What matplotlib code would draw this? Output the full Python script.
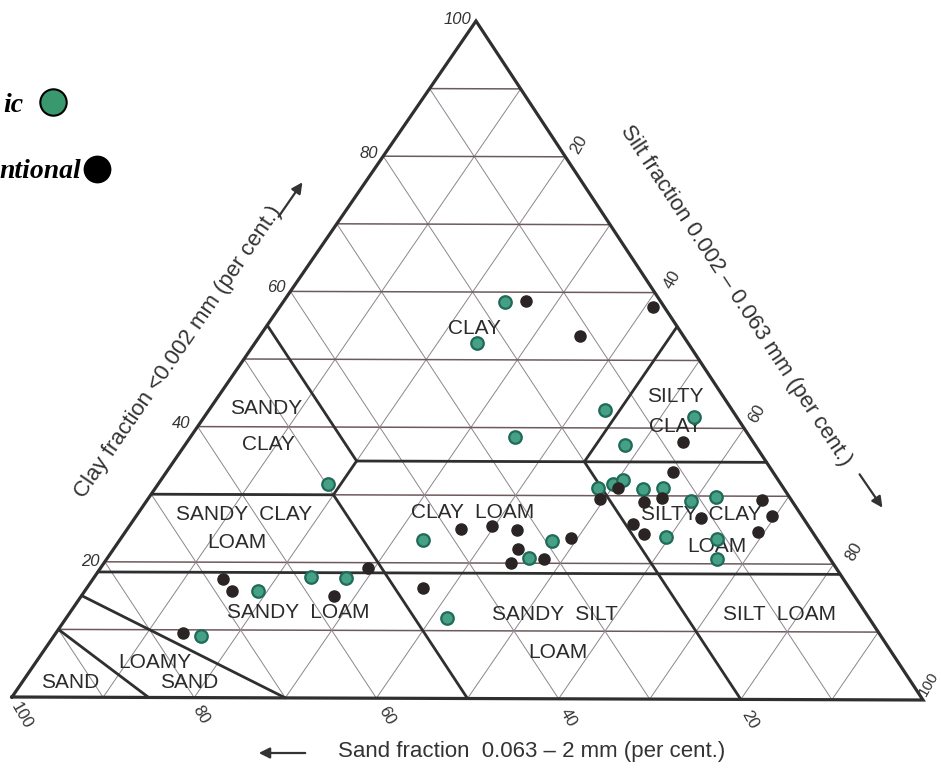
import matplotlib
matplotlib.use("Agg")
import matplotlib.pyplot as plt
from matplotlib.transforms import Affine2D

# ---------------- data (per cent) ----------------
# Organic samples
org_clay = [58.5, 52.5, 42.6, 38.6, 37.5, 41.7, 31.6, 31.1, 31.7, 32.3, 31.0, 31.2, 29.3,
            29.9, 23.9, 23.7, 20.7, 23.4, 23.3, 20.8, 11.9, 15.8, 17.9, 17.7, 9.1]
org_silt = [24.3, 24.3, 43.4, 35.5, 48.2, 53.6, 18.6, 48.5, 49.8, 50.6, 53.5, 55.6, 59.6,
            62.0, 59.6, 65.3, 66.8, 33.2, 47.4, 46.2, 41.7, 19.0, 23.7, 27.6, 16.1]
org_sand = [17.2, 23.2, 14.0, 25.9, 14.3, 4.7, 49.8, 20.4, 18.5, 17.1, 15.5, 13.2, 11.1,
            8.1, 16.5, 11.0, 12.5, 43.4, 29.3, 33.0, 46.4, 65.2, 58.4, 54.7, 74.8]

# Conventional samples
con_clay = [58.7, 53.6, 57.9, 38.0, 33.5, 31.1, 29.5, 29.1, 29.7, 29.4, 27.1, 26.8, 25.8, 24.4,
            24.7, 23.7, 25.0, 25.5, 24.9, 22.1, 20.0, 20.6, 16.3, 17.5, 15.8, 15.1, 19.2, 9.5]
con_silt = [26.5, 35.1, 40.9, 54.3, 55.5, 50.7, 49.5, 54.6, 56.2, 67.4, 69.6, 62.0, 55.0, 57.0,
            69.3, 49.3, 36.5, 39.7, 42.8, 44.3, 44.6, 47.9, 36.8, 14.2, 16.1, 27.7, 29.3, 13.9]
con_sand = [14.8, 11.3, 1.2, 7.7, 11.0, 18.2, 21.0, 16.3, 14.1, 3.2, 3.3, 11.2, 19.2, 18.6,
            6.0, 27.0, 38.5, 34.8, 32.3, 33.6, 35.4, 31.5, 46.9, 68.3, 68.1, 57.2, 51.5, 76.6]

grid_values = [10, 20, 30, 40, 50, 60, 70, 80, 90]
clay_ticks = ["20", "40", "60", "80", "100"]
silt_ticks = ["20", "40", "60", "80", "100"]
sand_ticks = ["100", "80", "60", "40", "20"]

# class boundaries: ((silt, clay) start, (silt, clay) end)
boundaries = [
    ((20, 35), (65, 35)),   # clay 35
    ((0, 55), (20, 35)),    # sand 45
    ((45, 55), (45, 35)),   # silt 45
    ((20, 35), (20, 30)),   # silt 20
    ((0, 30), (20, 30)),    # clay 30
    ((20, 30), (50, 0)),    # sand 50
    ((45, 35), (80, 0)),    # sand 20
    ((0, 18.5), (81.5, 18.5)),  # clay ~18
    ((0, 10), (15, 0)),     # sand limit
    ((0, 15), (30, 0)),     # loamy sand limit
]

region_labels = [
    ("CLAY", 474, 328), ("SANDY", 266, 409), ("CLAY", 268, 445),
    ("SILTY", 675, 396), ("CLAY", 675, 426),
    ("SANDY  CLAY", 244, 514), ("LOAM", 237, 543),
    ("CLAY  LOAM", 473, 513),
    ("SILTY  CLAY", 701, 515), ("LOAM", 717, 546),
    ("SANDY  LOAM", 298, 613), ("SANDY  SILT", 555, 614), ("LOAM", 558, 652),
    ("SILT  LOAM", 780, 615),
    ("LOAMY", 155, 662), ("SAND", 189, 682), ("SAND", 70, 682),
]

legend_labels = ["ic", "ntional"]   # visible parts of "Organic" / "Conventional"

# ---------------- figure ----------------
W, H = 941, 770
fig = plt.figure(figsize=(W / 100, H / 100), dpi=100)
ax = fig.add_axes([0, 0, 1, 1])
ax.set_xlim(0, W)
ax.set_ylim(H, 0)
ax.axis("off")

# ternary (silt %, clay %) -> page transform
tern = Affine2D.from_values(9.11, 0.03, 4.64, -6.76, 12, 697) + ax.transData

line_dark = "#2f2f2f"
grid_h = "#6e5a5c"
grid_d = "#8e8490"

# grid lattice
for v in grid_values:
    ax.plot([0, 100 - v], [v, v], transform=tern, color=grid_h, lw=1.1, zorder=1)
    ax.plot([v, v], [0, 100 - v], transform=tern, color=grid_d, lw=0.7, zorder=1)
    ax.plot([100 - v, 0], [0, 100 - v], transform=tern, color=grid_d, lw=0.7, zorder=1)

# boundaries
for (s0, c0), (s1, c1) in boundaries:
    ax.plot([s0, s1], [c0, c1], transform=tern, color=line_dark, lw=2.0,
            solid_capstyle="round", zorder=2)

# outline
ax.plot([0, 100, 0, 0], [0, 0, 100, 0], transform=tern, color=line_dark, lw=2.3,
        solid_joinstyle="miter", zorder=3)

# region labels
for txt, x, y in region_labels:
    ax.text(x, y, txt, ha="center", va="center", fontsize=15,
            family="Liberation Sans", color="#2b2b2b", zorder=4)

# tick labels - clay (left edge)
left_pos = [(100, 562), (190, 423), (286, 288), (378, 153), (471, 19)]
for lab, (x, y) in zip(clay_ticks, left_pos):
    ax.text(x, y, lab, ha="right", va="center", fontsize=12, style="italic",
            family="Liberation Sans", color="#333333")

# silt (right edge)
right_pos = [(579, 145), (672, 280), (757, 414), (854, 552), (929, 684)]
right_size = [12, 12, 12, 12, 11]
for lab, (x, y), fs in zip(silt_ticks, right_pos, right_size):
    ax.text(x, y, lab, ha="center", va="center", fontsize=fs, rotation=60,
            family="Liberation Sans", color="#333333")

# sand (bottom edge)
bottom_pos = [(22, 716), (201, 715), (387, 716), (568, 718), (750, 720)]
for lab, (x, y) in zip(sand_ticks, bottom_pos):
    ax.text(x, y, lab, ha="center", va="center", fontsize=12, rotation=-60,
            family="Liberation Sans", color="#333333")

# axis titles
ax.text(178, 352, "Clay fraction <0.002 mm (per cent.)", ha="center", va="center",
        rotation=55.5, rotation_mode="anchor", fontsize=16, family="Liberation Sans",
        color="#333333")
ax.text(736, 296, "Silt fraction 0.002 \u2013 0.063 mm (per cent.)", ha="center", va="center",
        rotation=-56.6, rotation_mode="anchor", fontsize=16, family="Liberation Sans",
        color="#333333")
ax.text(532, 752, "Sand fraction  0.063 \u2013 2 mm (per cent.)", ha="center", va="center",
        fontsize=16, family="Liberation Sans", color="#333333")

arrow = dict(arrowstyle="-|>", lw=1.6, color="#333333", mutation_scale=16)
ax.annotate("", xy=(304, 180), xytext=(277, 219), arrowprops=arrow)
ax.annotate("", xy=(884, 510), xytext=(858, 472), arrowprops=arrow)
ax.annotate("", xy=(256, 753), xytext=(308, 753), arrowprops=arrow)

# data points
ax.plot(org_silt, org_clay, "o", transform=tern, ms=9, mfc="#45a085", mec="#1f6a58",
        mew=1.6, zorder=6, linestyle="none")
ax.plot(con_silt, con_clay, "o", transform=tern, ms=8, mfc="#2a2424", mec="#2a2424",
        zorder=6, linestyle="none")

# legend (partly cut at the left border in the original)
ax.text(23, 112, legend_labels[0], ha="right", va="baseline", fontsize=20, weight="bold",
        style="italic", family="Liberation Serif", color="black")
ax.plot([53], [102], "o", ms=19, mfc="#3a986e", mec="black", mew=1.5)
ax.text(81, 178, legend_labels[1], ha="right", va="baseline", fontsize=20, weight="bold",
        style="italic", family="Liberation Serif", color="black")
ax.plot([97], [169], "o", ms=19, mfc="black", mec="black")

fig.savefig("out.png", dpi=100)
